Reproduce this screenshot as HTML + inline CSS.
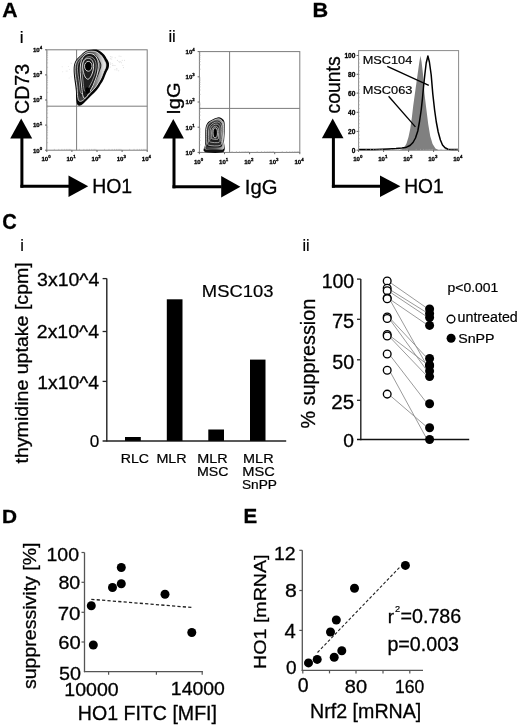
<!DOCTYPE html><html><head><meta charset="utf-8"><style>html,body{margin:0;padding:0;background:#fff;overflow:hidden}svg{display:block;filter:blur(0.35px)}text{font-family:"Liberation Sans",sans-serif;fill:#000;stroke:#000;stroke-width:0.3px}</style></head><body>
<svg width="520" height="728" viewBox="0 0 520 728">
<text id="t_A" x="2.17" y="16.90" font-size="20.95" font-weight="bold" textLength="15.31" lengthAdjust="spacingAndGlyphs">A</text>
<text id="t_B" x="312.53" y="17.25" font-size="20.58" font-weight="bold" textLength="15.69" lengthAdjust="spacingAndGlyphs">B</text>
<text id="t_C" x="2.30" y="228.53" font-size="22.12" font-weight="bold" textLength="14.50" lengthAdjust="spacingAndGlyphs">C</text>
<text id="t_D" x="2.09" y="522.50" font-size="19.05" font-weight="bold" textLength="15.03" lengthAdjust="spacingAndGlyphs">D</text>
<text id="t_E" x="243.61" y="522.50" font-size="20.36" font-weight="bold" textLength="13.70" lengthAdjust="spacingAndGlyphs">E</text>
<text id="t_iA" x="19.84" y="42.50" font-size="17.24" style="stroke-width:0.2px">i</text>
<text id="t_iiA" x="168.38" y="42.00" font-size="16.55" style="stroke-width:0.2px">ii</text>
<text id="t_iC" x="20.15" y="250.60" font-size="16.34" style="stroke-width:0.2px">i</text>
<text id="t_iiC" x="302.42" y="250.60" font-size="16.00" style="stroke-width:0.2px">ii</text>
<rect x="46.8" y="49.8" width="100.39999999999999" height="100.39999999999999" fill="none" stroke="#7c7c7c" stroke-width="1"/>
<line x1="54.36" y1="150.20" x2="54.36" y2="148.90" stroke="#aaa" stroke-width="0.6"/>
<line x1="46.80" y1="142.64" x2="48.10" y2="142.64" stroke="#aaa" stroke-width="0.6"/>
<line x1="58.78" y1="150.20" x2="58.78" y2="148.90" stroke="#aaa" stroke-width="0.6"/>
<line x1="46.80" y1="138.22" x2="48.10" y2="138.22" stroke="#aaa" stroke-width="0.6"/>
<line x1="61.91" y1="150.20" x2="61.91" y2="148.90" stroke="#aaa" stroke-width="0.6"/>
<line x1="46.80" y1="135.09" x2="48.10" y2="135.09" stroke="#aaa" stroke-width="0.6"/>
<line x1="64.34" y1="150.20" x2="64.34" y2="148.90" stroke="#aaa" stroke-width="0.6"/>
<line x1="46.80" y1="132.66" x2="48.10" y2="132.66" stroke="#aaa" stroke-width="0.6"/>
<line x1="66.33" y1="150.20" x2="66.33" y2="148.90" stroke="#aaa" stroke-width="0.6"/>
<line x1="46.80" y1="130.67" x2="48.10" y2="130.67" stroke="#aaa" stroke-width="0.6"/>
<line x1="68.01" y1="150.20" x2="68.01" y2="148.90" stroke="#aaa" stroke-width="0.6"/>
<line x1="46.80" y1="128.99" x2="48.10" y2="128.99" stroke="#aaa" stroke-width="0.6"/>
<line x1="69.47" y1="150.20" x2="69.47" y2="148.90" stroke="#aaa" stroke-width="0.6"/>
<line x1="46.80" y1="127.53" x2="48.10" y2="127.53" stroke="#aaa" stroke-width="0.6"/>
<line x1="70.75" y1="150.20" x2="70.75" y2="148.90" stroke="#aaa" stroke-width="0.6"/>
<line x1="46.80" y1="126.25" x2="48.10" y2="126.25" stroke="#aaa" stroke-width="0.6"/>
<line x1="79.46" y1="150.20" x2="79.46" y2="148.90" stroke="#aaa" stroke-width="0.6"/>
<line x1="46.80" y1="117.54" x2="48.10" y2="117.54" stroke="#aaa" stroke-width="0.6"/>
<line x1="83.88" y1="150.20" x2="83.88" y2="148.90" stroke="#aaa" stroke-width="0.6"/>
<line x1="46.80" y1="113.12" x2="48.10" y2="113.12" stroke="#aaa" stroke-width="0.6"/>
<line x1="87.01" y1="150.20" x2="87.01" y2="148.90" stroke="#aaa" stroke-width="0.6"/>
<line x1="46.80" y1="109.99" x2="48.10" y2="109.99" stroke="#aaa" stroke-width="0.6"/>
<line x1="89.44" y1="150.20" x2="89.44" y2="148.90" stroke="#aaa" stroke-width="0.6"/>
<line x1="46.80" y1="107.56" x2="48.10" y2="107.56" stroke="#aaa" stroke-width="0.6"/>
<line x1="91.43" y1="150.20" x2="91.43" y2="148.90" stroke="#aaa" stroke-width="0.6"/>
<line x1="46.80" y1="105.57" x2="48.10" y2="105.57" stroke="#aaa" stroke-width="0.6"/>
<line x1="93.11" y1="150.20" x2="93.11" y2="148.90" stroke="#aaa" stroke-width="0.6"/>
<line x1="46.80" y1="103.89" x2="48.10" y2="103.89" stroke="#aaa" stroke-width="0.6"/>
<line x1="94.57" y1="150.20" x2="94.57" y2="148.90" stroke="#aaa" stroke-width="0.6"/>
<line x1="46.80" y1="102.43" x2="48.10" y2="102.43" stroke="#aaa" stroke-width="0.6"/>
<line x1="95.85" y1="150.20" x2="95.85" y2="148.90" stroke="#aaa" stroke-width="0.6"/>
<line x1="46.80" y1="101.15" x2="48.10" y2="101.15" stroke="#aaa" stroke-width="0.6"/>
<line x1="104.56" y1="150.20" x2="104.56" y2="148.90" stroke="#aaa" stroke-width="0.6"/>
<line x1="46.80" y1="92.44" x2="48.10" y2="92.44" stroke="#aaa" stroke-width="0.6"/>
<line x1="108.98" y1="150.20" x2="108.98" y2="148.90" stroke="#aaa" stroke-width="0.6"/>
<line x1="46.80" y1="88.02" x2="48.10" y2="88.02" stroke="#aaa" stroke-width="0.6"/>
<line x1="112.11" y1="150.20" x2="112.11" y2="148.90" stroke="#aaa" stroke-width="0.6"/>
<line x1="46.80" y1="84.89" x2="48.10" y2="84.89" stroke="#aaa" stroke-width="0.6"/>
<line x1="114.54" y1="150.20" x2="114.54" y2="148.90" stroke="#aaa" stroke-width="0.6"/>
<line x1="46.80" y1="82.46" x2="48.10" y2="82.46" stroke="#aaa" stroke-width="0.6"/>
<line x1="116.53" y1="150.20" x2="116.53" y2="148.90" stroke="#aaa" stroke-width="0.6"/>
<line x1="46.80" y1="80.47" x2="48.10" y2="80.47" stroke="#aaa" stroke-width="0.6"/>
<line x1="118.21" y1="150.20" x2="118.21" y2="148.90" stroke="#aaa" stroke-width="0.6"/>
<line x1="46.80" y1="78.79" x2="48.10" y2="78.79" stroke="#aaa" stroke-width="0.6"/>
<line x1="119.67" y1="150.20" x2="119.67" y2="148.90" stroke="#aaa" stroke-width="0.6"/>
<line x1="46.80" y1="77.33" x2="48.10" y2="77.33" stroke="#aaa" stroke-width="0.6"/>
<line x1="120.95" y1="150.20" x2="120.95" y2="148.90" stroke="#aaa" stroke-width="0.6"/>
<line x1="46.80" y1="76.05" x2="48.10" y2="76.05" stroke="#aaa" stroke-width="0.6"/>
<line x1="129.66" y1="150.20" x2="129.66" y2="148.90" stroke="#aaa" stroke-width="0.6"/>
<line x1="46.80" y1="67.34" x2="48.10" y2="67.34" stroke="#aaa" stroke-width="0.6"/>
<line x1="134.08" y1="150.20" x2="134.08" y2="148.90" stroke="#aaa" stroke-width="0.6"/>
<line x1="46.80" y1="62.92" x2="48.10" y2="62.92" stroke="#aaa" stroke-width="0.6"/>
<line x1="137.21" y1="150.20" x2="137.21" y2="148.90" stroke="#aaa" stroke-width="0.6"/>
<line x1="46.80" y1="59.79" x2="48.10" y2="59.79" stroke="#aaa" stroke-width="0.6"/>
<line x1="139.64" y1="150.20" x2="139.64" y2="148.90" stroke="#aaa" stroke-width="0.6"/>
<line x1="46.80" y1="57.36" x2="48.10" y2="57.36" stroke="#aaa" stroke-width="0.6"/>
<line x1="141.63" y1="150.20" x2="141.63" y2="148.90" stroke="#aaa" stroke-width="0.6"/>
<line x1="46.80" y1="55.37" x2="48.10" y2="55.37" stroke="#aaa" stroke-width="0.6"/>
<line x1="143.31" y1="150.20" x2="143.31" y2="148.90" stroke="#aaa" stroke-width="0.6"/>
<line x1="46.80" y1="53.69" x2="48.10" y2="53.69" stroke="#aaa" stroke-width="0.6"/>
<line x1="144.77" y1="150.20" x2="144.77" y2="148.90" stroke="#aaa" stroke-width="0.6"/>
<line x1="46.80" y1="52.23" x2="48.10" y2="52.23" stroke="#aaa" stroke-width="0.6"/>
<line x1="146.05" y1="150.20" x2="146.05" y2="148.90" stroke="#aaa" stroke-width="0.6"/>
<line x1="46.80" y1="50.95" x2="48.10" y2="50.95" stroke="#aaa" stroke-width="0.6"/>
<line x1="46.80" y1="152.00" x2="46.80" y2="150.20" stroke="#555" stroke-width="0.9"/>
<line x1="45.00" y1="150.20" x2="46.80" y2="150.20" stroke="#555" stroke-width="0.9"/>
<text x="42.20" y="152.50" font-size="6.1" font-weight="bold" text-anchor="end" style="fill:#000">10<tspan dy="-2.9" font-size="4.4">0</tspan></text>
<text x="46.00" y="161.30" font-size="6.1" font-weight="bold" text-anchor="middle" style="fill:#000">10<tspan dy="-2.9" font-size="4.4">0</tspan></text>
<line x1="71.90" y1="152.00" x2="71.90" y2="150.20" stroke="#555" stroke-width="0.9"/>
<line x1="45.00" y1="125.10" x2="46.80" y2="125.10" stroke="#555" stroke-width="0.9"/>
<text x="42.20" y="127.40" font-size="6.1" font-weight="bold" text-anchor="end" style="fill:#000">10<tspan dy="-2.9" font-size="4.4">1</tspan></text>
<text x="71.10" y="161.30" font-size="6.1" font-weight="bold" text-anchor="middle" style="fill:#000">10<tspan dy="-2.9" font-size="4.4">1</tspan></text>
<line x1="97.00" y1="152.00" x2="97.00" y2="150.20" stroke="#555" stroke-width="0.9"/>
<line x1="45.00" y1="100.00" x2="46.80" y2="100.00" stroke="#555" stroke-width="0.9"/>
<text x="42.20" y="102.30" font-size="6.1" font-weight="bold" text-anchor="end" style="fill:#000">10<tspan dy="-2.9" font-size="4.4">2</tspan></text>
<text x="96.20" y="161.30" font-size="6.1" font-weight="bold" text-anchor="middle" style="fill:#000">10<tspan dy="-2.9" font-size="4.4">2</tspan></text>
<line x1="122.10" y1="152.00" x2="122.10" y2="150.20" stroke="#555" stroke-width="0.9"/>
<line x1="45.00" y1="74.90" x2="46.80" y2="74.90" stroke="#555" stroke-width="0.9"/>
<text x="42.20" y="77.20" font-size="6.1" font-weight="bold" text-anchor="end" style="fill:#000">10<tspan dy="-2.9" font-size="4.4">3</tspan></text>
<text x="121.30" y="161.30" font-size="6.1" font-weight="bold" text-anchor="middle" style="fill:#000">10<tspan dy="-2.9" font-size="4.4">3</tspan></text>
<line x1="147.20" y1="152.00" x2="147.20" y2="150.20" stroke="#555" stroke-width="0.9"/>
<line x1="45.00" y1="49.80" x2="46.80" y2="49.80" stroke="#555" stroke-width="0.9"/>
<text x="42.20" y="52.10" font-size="6.1" font-weight="bold" text-anchor="end" style="fill:#000">10<tspan dy="-2.9" font-size="4.4">4</tspan></text>
<text x="146.40" y="161.30" font-size="6.1" font-weight="bold" text-anchor="middle" style="fill:#000">10<tspan dy="-2.9" font-size="4.4">4</tspan></text>
<line x1="76.60" y1="49.80" x2="76.60" y2="150.20" stroke="#7c7c7c" stroke-width="1"/>
<line x1="46.80" y1="106.20" x2="147.20" y2="106.20" stroke="#7c7c7c" stroke-width="1"/>
<rect x="199.4" y="51.6" width="100.4" height="100.80000000000001" fill="none" stroke="#7c7c7c" stroke-width="1"/>
<line x1="206.96" y1="152.40" x2="206.96" y2="151.10" stroke="#aaa" stroke-width="0.6"/>
<line x1="199.40" y1="144.81" x2="200.70" y2="144.81" stroke="#aaa" stroke-width="0.6"/>
<line x1="211.38" y1="152.40" x2="211.38" y2="151.10" stroke="#aaa" stroke-width="0.6"/>
<line x1="199.40" y1="140.38" x2="200.70" y2="140.38" stroke="#aaa" stroke-width="0.6"/>
<line x1="214.51" y1="152.40" x2="214.51" y2="151.10" stroke="#aaa" stroke-width="0.6"/>
<line x1="199.40" y1="137.23" x2="200.70" y2="137.23" stroke="#aaa" stroke-width="0.6"/>
<line x1="216.94" y1="152.40" x2="216.94" y2="151.10" stroke="#aaa" stroke-width="0.6"/>
<line x1="199.40" y1="134.79" x2="200.70" y2="134.79" stroke="#aaa" stroke-width="0.6"/>
<line x1="218.93" y1="152.40" x2="218.93" y2="151.10" stroke="#aaa" stroke-width="0.6"/>
<line x1="199.40" y1="132.79" x2="200.70" y2="132.79" stroke="#aaa" stroke-width="0.6"/>
<line x1="220.61" y1="152.40" x2="220.61" y2="151.10" stroke="#aaa" stroke-width="0.6"/>
<line x1="199.40" y1="131.10" x2="200.70" y2="131.10" stroke="#aaa" stroke-width="0.6"/>
<line x1="222.07" y1="152.40" x2="222.07" y2="151.10" stroke="#aaa" stroke-width="0.6"/>
<line x1="199.40" y1="129.64" x2="200.70" y2="129.64" stroke="#aaa" stroke-width="0.6"/>
<line x1="223.35" y1="152.40" x2="223.35" y2="151.10" stroke="#aaa" stroke-width="0.6"/>
<line x1="199.40" y1="128.35" x2="200.70" y2="128.35" stroke="#aaa" stroke-width="0.6"/>
<line x1="232.06" y1="152.40" x2="232.06" y2="151.10" stroke="#aaa" stroke-width="0.6"/>
<line x1="199.40" y1="119.61" x2="200.70" y2="119.61" stroke="#aaa" stroke-width="0.6"/>
<line x1="236.48" y1="152.40" x2="236.48" y2="151.10" stroke="#aaa" stroke-width="0.6"/>
<line x1="199.40" y1="115.18" x2="200.70" y2="115.18" stroke="#aaa" stroke-width="0.6"/>
<line x1="239.61" y1="152.40" x2="239.61" y2="151.10" stroke="#aaa" stroke-width="0.6"/>
<line x1="199.40" y1="112.03" x2="200.70" y2="112.03" stroke="#aaa" stroke-width="0.6"/>
<line x1="242.04" y1="152.40" x2="242.04" y2="151.10" stroke="#aaa" stroke-width="0.6"/>
<line x1="199.40" y1="109.59" x2="200.70" y2="109.59" stroke="#aaa" stroke-width="0.6"/>
<line x1="244.03" y1="152.40" x2="244.03" y2="151.10" stroke="#aaa" stroke-width="0.6"/>
<line x1="199.40" y1="107.59" x2="200.70" y2="107.59" stroke="#aaa" stroke-width="0.6"/>
<line x1="245.71" y1="152.40" x2="245.71" y2="151.10" stroke="#aaa" stroke-width="0.6"/>
<line x1="199.40" y1="105.90" x2="200.70" y2="105.90" stroke="#aaa" stroke-width="0.6"/>
<line x1="247.17" y1="152.40" x2="247.17" y2="151.10" stroke="#aaa" stroke-width="0.6"/>
<line x1="199.40" y1="104.44" x2="200.70" y2="104.44" stroke="#aaa" stroke-width="0.6"/>
<line x1="248.45" y1="152.40" x2="248.45" y2="151.10" stroke="#aaa" stroke-width="0.6"/>
<line x1="199.40" y1="103.15" x2="200.70" y2="103.15" stroke="#aaa" stroke-width="0.6"/>
<line x1="257.16" y1="152.40" x2="257.16" y2="151.10" stroke="#aaa" stroke-width="0.6"/>
<line x1="199.40" y1="94.41" x2="200.70" y2="94.41" stroke="#aaa" stroke-width="0.6"/>
<line x1="261.58" y1="152.40" x2="261.58" y2="151.10" stroke="#aaa" stroke-width="0.6"/>
<line x1="199.40" y1="89.98" x2="200.70" y2="89.98" stroke="#aaa" stroke-width="0.6"/>
<line x1="264.71" y1="152.40" x2="264.71" y2="151.10" stroke="#aaa" stroke-width="0.6"/>
<line x1="199.40" y1="86.83" x2="200.70" y2="86.83" stroke="#aaa" stroke-width="0.6"/>
<line x1="267.14" y1="152.40" x2="267.14" y2="151.10" stroke="#aaa" stroke-width="0.6"/>
<line x1="199.40" y1="84.39" x2="200.70" y2="84.39" stroke="#aaa" stroke-width="0.6"/>
<line x1="269.13" y1="152.40" x2="269.13" y2="151.10" stroke="#aaa" stroke-width="0.6"/>
<line x1="199.40" y1="82.39" x2="200.70" y2="82.39" stroke="#aaa" stroke-width="0.6"/>
<line x1="270.81" y1="152.40" x2="270.81" y2="151.10" stroke="#aaa" stroke-width="0.6"/>
<line x1="199.40" y1="80.70" x2="200.70" y2="80.70" stroke="#aaa" stroke-width="0.6"/>
<line x1="272.27" y1="152.40" x2="272.27" y2="151.10" stroke="#aaa" stroke-width="0.6"/>
<line x1="199.40" y1="79.24" x2="200.70" y2="79.24" stroke="#aaa" stroke-width="0.6"/>
<line x1="273.55" y1="152.40" x2="273.55" y2="151.10" stroke="#aaa" stroke-width="0.6"/>
<line x1="199.40" y1="77.95" x2="200.70" y2="77.95" stroke="#aaa" stroke-width="0.6"/>
<line x1="282.26" y1="152.40" x2="282.26" y2="151.10" stroke="#aaa" stroke-width="0.6"/>
<line x1="199.40" y1="69.21" x2="200.70" y2="69.21" stroke="#aaa" stroke-width="0.6"/>
<line x1="286.68" y1="152.40" x2="286.68" y2="151.10" stroke="#aaa" stroke-width="0.6"/>
<line x1="199.40" y1="64.78" x2="200.70" y2="64.78" stroke="#aaa" stroke-width="0.6"/>
<line x1="289.81" y1="152.40" x2="289.81" y2="151.10" stroke="#aaa" stroke-width="0.6"/>
<line x1="199.40" y1="61.63" x2="200.70" y2="61.63" stroke="#aaa" stroke-width="0.6"/>
<line x1="292.24" y1="152.40" x2="292.24" y2="151.10" stroke="#aaa" stroke-width="0.6"/>
<line x1="199.40" y1="59.19" x2="200.70" y2="59.19" stroke="#aaa" stroke-width="0.6"/>
<line x1="294.23" y1="152.40" x2="294.23" y2="151.10" stroke="#aaa" stroke-width="0.6"/>
<line x1="199.40" y1="57.19" x2="200.70" y2="57.19" stroke="#aaa" stroke-width="0.6"/>
<line x1="295.91" y1="152.40" x2="295.91" y2="151.10" stroke="#aaa" stroke-width="0.6"/>
<line x1="199.40" y1="55.50" x2="200.70" y2="55.50" stroke="#aaa" stroke-width="0.6"/>
<line x1="297.37" y1="152.40" x2="297.37" y2="151.10" stroke="#aaa" stroke-width="0.6"/>
<line x1="199.40" y1="54.04" x2="200.70" y2="54.04" stroke="#aaa" stroke-width="0.6"/>
<line x1="298.65" y1="152.40" x2="298.65" y2="151.10" stroke="#aaa" stroke-width="0.6"/>
<line x1="199.40" y1="52.75" x2="200.70" y2="52.75" stroke="#aaa" stroke-width="0.6"/>
<line x1="199.40" y1="154.20" x2="199.40" y2="152.40" stroke="#555" stroke-width="0.9"/>
<line x1="197.60" y1="152.40" x2="199.40" y2="152.40" stroke="#555" stroke-width="0.9"/>
<text x="194.80" y="154.70" font-size="6.1" font-weight="bold" text-anchor="end" style="fill:#000">10<tspan dy="-2.9" font-size="4.4">0</tspan></text>
<text x="198.60" y="163.60" font-size="6.1" font-weight="bold" text-anchor="middle" style="fill:#000">10<tspan dy="-2.9" font-size="4.4">0</tspan></text>
<line x1="224.50" y1="154.20" x2="224.50" y2="152.40" stroke="#555" stroke-width="0.9"/>
<line x1="197.60" y1="127.20" x2="199.40" y2="127.20" stroke="#555" stroke-width="0.9"/>
<text x="194.80" y="129.50" font-size="6.1" font-weight="bold" text-anchor="end" style="fill:#000">10<tspan dy="-2.9" font-size="4.4">1</tspan></text>
<text x="223.70" y="163.60" font-size="6.1" font-weight="bold" text-anchor="middle" style="fill:#000">10<tspan dy="-2.9" font-size="4.4">1</tspan></text>
<line x1="249.60" y1="154.20" x2="249.60" y2="152.40" stroke="#555" stroke-width="0.9"/>
<line x1="197.60" y1="102.00" x2="199.40" y2="102.00" stroke="#555" stroke-width="0.9"/>
<text x="194.80" y="104.30" font-size="6.1" font-weight="bold" text-anchor="end" style="fill:#000">10<tspan dy="-2.9" font-size="4.4">2</tspan></text>
<text x="248.80" y="163.60" font-size="6.1" font-weight="bold" text-anchor="middle" style="fill:#000">10<tspan dy="-2.9" font-size="4.4">2</tspan></text>
<line x1="274.70" y1="154.20" x2="274.70" y2="152.40" stroke="#555" stroke-width="0.9"/>
<line x1="197.60" y1="76.80" x2="199.40" y2="76.80" stroke="#555" stroke-width="0.9"/>
<text x="194.80" y="79.10" font-size="6.1" font-weight="bold" text-anchor="end" style="fill:#000">10<tspan dy="-2.9" font-size="4.4">3</tspan></text>
<text x="273.90" y="163.60" font-size="6.1" font-weight="bold" text-anchor="middle" style="fill:#000">10<tspan dy="-2.9" font-size="4.4">3</tspan></text>
<line x1="299.80" y1="154.20" x2="299.80" y2="152.40" stroke="#555" stroke-width="0.9"/>
<line x1="197.60" y1="51.60" x2="199.40" y2="51.60" stroke="#555" stroke-width="0.9"/>
<text x="194.80" y="53.90" font-size="6.1" font-weight="bold" text-anchor="end" style="fill:#000">10<tspan dy="-2.9" font-size="4.4">4</tspan></text>
<text x="299.00" y="163.60" font-size="6.1" font-weight="bold" text-anchor="middle" style="fill:#000">10<tspan dy="-2.9" font-size="4.4">4</tspan></text>
<line x1="229.60" y1="51.60" x2="229.60" y2="152.40" stroke="#7c7c7c" stroke-width="1"/>
<line x1="199.40" y1="108.40" x2="299.80" y2="108.40" stroke="#7c7c7c" stroke-width="1"/>
<line x1="21.90" y1="138.00" x2="21.90" y2="187.70" stroke="#000" stroke-width="3"/>
<line x1="20.40" y1="186.20" x2="69.00" y2="186.20" stroke="#000" stroke-width="3"/>
<path d="M21.20,118.40 L10.20,138.50 L32.20,138.50 Z" fill="#000" stroke="none" stroke-width="1"/>
<path d="M88.20,186.20 L68.50,175.50 L68.50,196.90 Z" fill="#000" stroke="none" stroke-width="1"/>
<line x1="174.00" y1="138.00" x2="174.00" y2="188.30" stroke="#000" stroke-width="3"/>
<line x1="172.50" y1="186.80" x2="221.70" y2="186.80" stroke="#000" stroke-width="3"/>
<path d="M173.30,119.00 L162.70,138.50 L183.90,138.50 Z" fill="#000" stroke="none" stroke-width="1"/>
<path d="M240.40,186.80 L221.20,176.10 L221.20,197.50 Z" fill="#000" stroke="none" stroke-width="1"/>
<line x1="333.40" y1="137.70" x2="333.40" y2="187.70" stroke="#000" stroke-width="3"/>
<line x1="331.90" y1="186.20" x2="380.50" y2="186.20" stroke="#000" stroke-width="3"/>
<path d="M332.70,118.50 L321.90,138.20 L343.50,138.20 Z" fill="#000" stroke="none" stroke-width="1"/>
<path d="M400.40,186.20 L380.00,175.50 L380.00,196.90 Z" fill="#000" stroke="none" stroke-width="1"/>
<text id="t_HO1a" x="92.20" y="192.90" font-size="19.65" textLength="39.95" lengthAdjust="spacingAndGlyphs">HO1</text>
<text id="t_IgG" x="244.82" y="193.80" font-size="19.78" textLength="32.68" lengthAdjust="spacingAndGlyphs">IgG</text>
<text id="t_HO1b" x="404.21" y="192.90" font-size="19.65" textLength="39.52" lengthAdjust="spacingAndGlyphs">HO1</text>
<text id="t_CD73" transform="translate(28.90,113.88) rotate(-90)" font-size="20.21" textLength="49.94" lengthAdjust="spacingAndGlyphs">CD73</text>
<text id="t_IgGr" transform="translate(180.33,114.75) rotate(-90)" font-size="19.12" textLength="32.24" lengthAdjust="spacingAndGlyphs">IgG</text>
<text id="t_counts" transform="translate(340.39,113.58) rotate(-90)" font-size="20.92" textLength="57.34" lengthAdjust="spacingAndGlyphs">counts</text>
<defs><linearGradient id="g1" x1="0" y1="0" x2="1" y2="0"><stop offset="0" stop-color="#333"/><stop offset="0.55" stop-color="#555"/><stop offset="0.78" stop-color="#aaa"/><stop offset="0.92" stop-color="#ddd"/><stop offset="1" stop-color="#eee"/></linearGradient><linearGradient id="g2" x1="0" y1="0" x2="1" y2="0"><stop offset="0" stop-color="#333"/><stop offset="0.6" stop-color="#666"/><stop offset="1" stop-color="#bbb"/></linearGradient></defs>
<path d="M88.80,50.00 C90.22,49.63 91.97,49.40 93.50,49.40 C95.03,49.40 96.28,49.20 98.00,50.00 C99.72,50.80 102.25,52.60 103.80,54.20 C105.35,55.80 106.43,58.05 107.30,59.60 C108.17,61.15 108.78,62.10 109.00,63.50 C109.22,64.90 109.05,66.47 108.60,68.00 C108.15,69.53 107.07,70.97 106.30,72.70 C105.53,74.43 104.80,76.67 104.00,78.40 C103.20,80.13 102.68,81.17 101.50,83.10 C100.32,85.03 98.63,87.90 96.90,90.00 C95.17,92.10 93.02,93.78 91.10,95.70 C89.18,97.62 87.05,99.92 85.40,101.50 C83.75,103.08 82.50,104.62 81.20,105.20 C79.90,105.78 78.43,106.00 77.60,105.00 C76.77,104.00 76.48,101.52 76.20,99.20 C75.92,96.88 76.12,93.78 75.90,91.10 C75.68,88.42 75.25,85.98 74.90,83.10 C74.55,80.22 73.97,76.68 73.80,73.80 C73.63,70.92 73.52,68.10 73.90,65.80 C74.28,63.50 74.95,61.77 76.10,60.00 C77.25,58.23 79.32,56.60 80.80,55.20 C82.28,53.80 83.67,52.47 85.00,51.60 C86.33,50.73 87.38,50.37 88.80,50.00 Z" fill="#050505"/>
<path d="M88.78,51.37 C90.06,51.12 91.63,51.14 92.96,51.26 C94.30,51.38 95.36,51.31 96.80,52.09 C98.24,52.87 100.33,54.54 101.60,55.97 C102.87,57.39 103.73,59.31 104.43,60.64 C105.13,61.97 105.63,62.77 105.80,63.95 C105.97,65.14 105.84,66.45 105.48,67.75 C105.12,69.05 104.25,70.27 103.63,71.75 C103.01,73.24 102.42,75.15 101.76,76.66 C101.11,78.16 100.69,79.05 99.70,80.77 C98.71,82.48 97.30,85.01 95.82,86.94 C94.34,88.86 92.49,90.53 90.81,92.33 C89.13,94.12 87.21,96.30 85.74,97.74 C84.28,99.17 83.17,100.44 82.01,100.93 C80.86,101.43 79.56,101.61 78.82,100.73 C78.07,99.85 77.81,97.68 77.54,95.65 C77.28,93.62 77.43,90.91 77.22,88.54 C77.00,86.18 76.59,84.03 76.25,81.46 C75.91,78.88 75.35,75.71 75.18,73.11 C75.02,70.51 74.91,67.95 75.24,65.85 C75.57,63.76 76.16,62.19 77.19,60.56 C78.22,58.93 80.06,57.38 81.41,56.08 C82.76,54.78 84.05,53.55 85.28,52.76 C86.51,51.98 87.50,51.62 88.78,51.37 Z" fill="url(#g1)" stroke="#f4f4f4" stroke-width="0.8"/>
<path d="M88.76,52.88 C89.88,52.82 91.21,53.30 92.28,53.63 C93.35,53.97 94.15,54.09 95.20,54.88 C96.25,55.68 97.69,57.20 98.56,58.40 C99.44,59.61 99.98,61.06 100.44,62.10 C100.90,63.13 101.21,63.71 101.32,64.59 C101.43,65.48 101.35,66.43 101.11,67.40 C100.88,68.37 100.32,69.29 99.91,70.43 C99.51,71.57 99.12,73.05 98.67,74.25 C98.23,75.44 97.96,76.15 97.25,77.60 C96.55,79.06 95.56,81.19 94.43,82.98 C93.30,84.77 91.86,86.57 90.47,88.35 C89.09,90.14 87.38,92.35 86.11,93.68 C84.85,95.01 83.89,95.93 82.89,96.34 C81.89,96.75 80.78,96.88 80.13,96.13 C79.48,95.38 79.24,93.55 78.99,91.82 C78.74,90.10 78.85,87.81 78.63,85.79 C78.42,83.76 78.03,81.92 77.70,79.69 C77.37,77.45 76.85,74.66 76.68,72.36 C76.51,70.07 76.40,67.78 76.68,65.91 C76.96,64.05 77.46,62.64 78.36,61.16 C79.26,59.68 80.87,58.22 82.07,57.03 C83.28,55.84 84.47,54.70 85.59,54.01 C86.70,53.32 87.65,52.94 88.76,52.88 Z" fill="#262626" stroke="none"/>
<path d="M88.75,53.80 C89.79,53.78 91.00,54.33 91.97,54.70 C92.94,55.07 93.65,55.24 94.56,56.01 C95.47,56.78 96.70,58.21 97.44,59.31 C98.18,60.41 98.62,61.70 99.00,62.62 C99.38,63.54 99.63,64.04 99.72,64.82 C99.81,65.60 99.74,66.42 99.55,67.28 C99.36,68.13 98.91,68.94 98.57,69.95 C98.23,70.96 97.91,72.29 97.53,73.36 C97.15,74.43 96.92,75.06 96.31,76.38 C95.69,77.69 94.83,79.61 93.82,81.26 C92.82,82.90 91.54,84.58 90.29,86.22 C89.05,87.86 87.49,89.88 86.35,91.08 C85.21,92.27 84.35,93.04 83.45,93.39 C82.56,93.74 81.56,93.85 80.97,93.18 C80.38,92.50 80.16,90.89 79.92,89.36 C79.68,87.84 79.76,85.82 79.54,84.02 C79.33,82.21 78.95,80.57 78.63,78.55 C78.32,76.53 77.81,73.98 77.64,71.88 C77.46,69.78 77.36,67.67 77.61,65.95 C77.85,64.23 78.30,62.93 79.11,61.54 C79.93,60.16 81.39,58.76 82.50,57.64 C83.61,56.52 84.74,55.46 85.78,54.82 C86.82,54.18 87.72,53.82 88.75,53.80 Z" fill="#151515" stroke="#c8c8c8" stroke-width="0.7"/>
<path d="M88.00,53.60 C89.43,53.37 91.53,53.47 93.00,54.20 C94.47,54.93 95.90,56.37 96.80,58.00 C97.70,59.63 98.27,61.67 98.40,64.00 C98.53,66.33 98.07,69.50 97.60,72.00 C97.13,74.50 96.37,76.75 95.60,79.00 C94.83,81.25 93.97,83.42 93.00,85.50 C92.03,87.58 90.83,89.67 89.80,91.50 C88.77,93.33 87.73,95.38 86.80,96.50 C85.87,97.62 84.90,98.53 84.20,98.20 C83.50,97.87 83.03,96.53 82.60,94.50 C82.17,92.47 81.93,88.92 81.60,86.00 C81.27,83.08 80.83,80.00 80.60,77.00 C80.37,74.00 80.07,70.75 80.20,68.00 C80.33,65.25 80.70,62.57 81.40,60.50 C82.10,58.43 83.30,56.75 84.40,55.60 C85.50,54.45 86.57,53.83 88.00,53.60 Z" fill="#161616" stroke="#ececec" stroke-width="0.9"/>
<path d="M88.07,56.77 C89.18,56.59 90.82,56.66 91.97,57.24 C93.11,57.81 94.23,58.93 94.93,60.20 C95.63,61.47 96.07,63.06 96.18,64.88 C96.28,66.70 95.92,69.17 95.55,71.12 C95.19,73.07 94.59,74.83 93.99,76.58 C93.40,78.33 92.72,80.03 91.97,81.65 C91.21,83.28 90.28,84.90 89.47,86.33 C88.66,87.76 87.86,89.36 87.13,90.23 C86.40,91.10 85.65,91.82 85.10,91.56 C84.56,91.30 84.19,90.26 83.85,88.67 C83.52,87.08 83.33,84.32 83.07,82.04 C82.81,79.77 82.48,77.36 82.29,75.02 C82.11,72.68 81.88,70.14 81.98,68.00 C82.09,65.86 82.37,63.76 82.92,62.15 C83.46,60.54 84.40,59.23 85.26,58.33 C86.12,57.43 86.95,56.95 88.07,56.77 Z" fill="#202020" stroke="#bdbdbd" stroke-width="0.7"/>
<path d="M87.60,58.40 C88.73,58.27 90.22,58.50 91.20,59.40 C92.18,60.30 93.17,62.03 93.50,63.80 C93.83,65.57 93.58,68.00 93.20,70.00 C92.82,72.00 92.03,74.27 91.20,75.80 C90.37,77.33 89.20,79.00 88.20,79.20 C87.20,79.40 86.03,78.37 85.20,77.00 C84.37,75.63 83.62,73.00 83.20,71.00 C82.78,69.00 82.50,66.80 82.70,65.00 C82.90,63.20 83.58,61.30 84.40,60.20 C85.22,59.10 86.47,58.53 87.60,58.40 Z" fill="#1e1e1e" stroke="#ececec" stroke-width="0.9"/>
<ellipse cx="87.6" cy="90.5" rx="2.4" ry="3.2" fill="#000"/>
<ellipse cx="88.3" cy="66.3" rx="3.7" ry="4.9" fill="#0a0a0a" stroke="#f0f0f0" stroke-width="0.9"/>
<ellipse cx="88.3" cy="66.3" rx="2.9" ry="4.0" fill="#000"/>
<circle cx="115.2" cy="57.7" r="0.55" fill="#dcdcdc"/>
<circle cx="120.9" cy="56.3" r="0.55" fill="#dcdcdc"/>
<circle cx="118.9" cy="61.6" r="0.55" fill="#dcdcdc"/>
<circle cx="110.5" cy="64.1" r="0.55" fill="#dcdcdc"/>
<circle cx="110.2" cy="62.8" r="0.55" fill="#dcdcdc"/>
<circle cx="110.7" cy="56.6" r="0.55" fill="#dcdcdc"/>
<circle cx="116.9" cy="69.9" r="0.55" fill="#dcdcdc"/>
<circle cx="111.7" cy="59.0" r="0.55" fill="#dcdcdc"/>
<circle cx="119.6" cy="62.1" r="0.55" fill="#dcdcdc"/>
<circle cx="124.5" cy="60.2" r="0.55" fill="#dcdcdc"/>
<circle cx="112.0" cy="57.1" r="0.55" fill="#dcdcdc"/>
<circle cx="114.9" cy="69.7" r="0.55" fill="#dcdcdc"/>
<circle cx="112.7" cy="65.5" r="0.55" fill="#dcdcdc"/>
<circle cx="120.7" cy="61.7" r="0.55" fill="#dcdcdc"/>
<circle cx="119.1" cy="56.1" r="0.55" fill="#dcdcdc"/>
<circle cx="110.5" cy="58.7" r="0.55" fill="#dcdcdc"/>
<circle cx="121.4" cy="62.7" r="0.55" fill="#dcdcdc"/>
<circle cx="115.0" cy="65.5" r="0.55" fill="#dcdcdc"/>
<circle cx="117.4" cy="60.4" r="0.55" fill="#dcdcdc"/>
<circle cx="123.4" cy="67.6" r="0.55" fill="#dcdcdc"/>
<circle cx="113.8" cy="65.3" r="0.55" fill="#dcdcdc"/>
<circle cx="118.7" cy="70.8" r="0.55" fill="#dcdcdc"/>
<circle cx="122.3" cy="60.2" r="0.55" fill="#dcdcdc"/>
<circle cx="116.8" cy="68.6" r="0.55" fill="#dcdcdc"/>
<circle cx="112.2" cy="63.8" r="0.55" fill="#dcdcdc"/>
<circle cx="110.2" cy="67.0" r="0.55" fill="#dcdcdc"/>
<circle cx="122.9" cy="65.3" r="0.55" fill="#dcdcdc"/>
<circle cx="71.6" cy="63.6" r="0.5" fill="#e4e4e4"/>
<circle cx="69.6" cy="69.5" r="0.5" fill="#e4e4e4"/>
<circle cx="68.4" cy="66.6" r="0.5" fill="#e4e4e4"/>
<circle cx="71.2" cy="76.8" r="0.5" fill="#e4e4e4"/>
<circle cx="67.2" cy="70.9" r="0.5" fill="#e4e4e4"/>
<circle cx="62.7" cy="71.7" r="0.5" fill="#e4e4e4"/>
<circle cx="69.1" cy="77.9" r="0.5" fill="#e4e4e4"/>
<circle cx="71.0" cy="63.0" r="0.5" fill="#e4e4e4"/>
<circle cx="66.2" cy="71.0" r="0.5" fill="#e4e4e4"/>
<circle cx="62.2" cy="66.7" r="0.5" fill="#e4e4e4"/>
<path d="M204.90,151.80 C201.87,150.67 204.95,147.28 205.00,145.00 C205.05,142.72 205.12,140.88 205.20,138.10 C205.28,135.32 205.07,130.90 205.50,128.30 C205.93,125.70 206.55,124.02 207.80,122.50 C209.05,120.98 211.15,120.08 213.00,119.20 C214.85,118.32 217.27,117.20 218.90,117.20 C220.53,117.20 221.87,118.32 222.80,119.20 C223.73,120.08 224.18,120.43 224.50,122.50 C224.82,124.57 224.78,128.45 224.70,131.60 C224.62,134.75 224.25,138.03 224.00,141.40 C223.75,144.77 226.38,150.07 223.20,151.80 C220.02,153.53 207.93,152.93 204.90,151.80 Z" fill="#050505"/>
<path d="M206.10,149.58 C203.41,148.58 206.12,145.63 206.16,143.62 C206.19,141.61 206.23,139.99 206.30,137.52 C206.37,135.05 206.18,131.11 206.56,128.79 C206.94,126.47 207.47,124.97 208.57,123.58 C209.68,122.19 211.54,121.25 213.20,120.45 C214.86,119.65 217.07,118.73 218.53,118.77 C219.99,118.81 221.15,119.86 221.98,120.67 C222.80,121.48 223.19,121.79 223.47,123.64 C223.76,125.48 223.75,128.92 223.68,131.73 C223.61,134.54 223.28,137.49 223.05,140.47 C222.82,143.46 225.12,148.13 222.29,149.65 C219.47,151.16 208.79,150.59 206.10,149.58 Z" fill="url(#g2)" stroke="#e8e8e8" stroke-width="0.8"/>
<path d="M207.65,146.73 C205.40,145.89 207.63,143.50 207.64,141.84 C207.65,140.18 207.67,138.84 207.71,136.77 C207.76,134.70 207.61,131.39 207.91,129.42 C208.22,127.45 208.64,126.19 209.57,124.96 C210.49,123.73 212.05,122.75 213.46,122.05 C214.87,121.35 216.81,120.70 218.05,120.78 C219.29,120.87 220.24,121.84 220.92,122.56 C221.61,123.28 221.92,123.54 222.16,125.10 C222.40,126.65 222.42,129.53 222.36,131.90 C222.31,134.26 222.04,136.78 221.83,139.28 C221.62,141.78 223.49,145.63 221.13,146.88 C218.76,148.12 209.90,147.57 207.65,146.73 Z" fill="#1a1a1a" stroke="none"/>
<path d="M208.51,145.14 C206.51,144.40 208.47,142.32 208.47,140.85 C208.46,139.39 208.47,138.20 208.50,136.35 C208.53,134.50 208.40,131.54 208.67,129.77 C208.94,128.00 209.30,126.87 210.12,125.73 C210.94,124.59 212.33,123.58 213.61,122.94 C214.88,122.30 216.66,121.79 217.78,121.90 C218.91,122.02 219.73,122.95 220.33,123.61 C220.94,124.28 221.21,124.51 221.42,125.91 C221.64,127.30 221.68,129.87 221.63,131.99 C221.59,134.11 221.35,136.39 221.15,138.62 C220.96,140.84 222.59,144.25 220.48,145.34 C218.37,146.42 210.51,145.89 208.51,145.14 Z" fill="#2a2a2a" stroke="#d8d8d8" stroke-width="0.7"/>
<path d="M210.23,141.97 C208.72,141.41 210.14,139.96 210.12,138.88 C210.09,137.80 210.06,136.92 210.07,135.52 C210.08,134.12 209.99,131.85 210.18,130.47 C210.37,129.09 210.61,128.22 211.22,127.27 C211.84,126.31 212.89,125.24 213.89,124.72 C214.90,124.20 216.38,123.98 217.25,124.14 C218.13,124.31 218.71,125.15 219.16,125.71 C219.61,126.28 219.79,126.45 219.96,127.53 C220.13,128.60 220.20,130.54 220.17,132.17 C220.14,133.80 219.96,135.61 219.80,137.29 C219.63,138.97 220.78,141.48 219.18,142.26 C217.59,143.04 211.74,142.54 210.23,141.97 Z" fill="#1e1e1e" stroke="#d0d0d0" stroke-width="0.7"/>
<path d="M211.95,138.80 C210.93,138.42 211.82,137.59 211.77,136.91 C211.72,136.22 211.66,135.64 211.64,134.69 C211.63,133.73 211.57,132.15 211.69,131.17 C211.80,130.19 211.91,129.58 212.33,128.80 C212.75,128.03 213.45,126.91 214.18,126.50 C214.91,126.10 216.09,126.16 216.72,126.38 C217.36,126.60 217.69,127.35 217.99,127.82 C218.28,128.28 218.37,128.39 218.50,129.15 C218.62,129.91 218.72,131.22 218.71,132.36 C218.70,133.49 218.58,134.83 218.44,135.97 C218.30,137.11 218.97,138.71 217.89,139.18 C216.80,139.65 212.97,139.18 211.95,138.80 Z" fill="#2a2a2a" stroke="#d8d8d8" stroke-width="0.7"/>
<ellipse cx="215.2" cy="132.8" rx="2.2" ry="5.0" fill="#111" stroke="#e6e6e6" stroke-width="0.8"/>
<ellipse cx="215.2" cy="132.8" rx="1.3" ry="3.6" fill="#000"/>
<rect x="205" y="149.6" width="18.5" height="2.6" fill="#111"/>
<rect x="358.6" y="50.6" width="100.0" height="99.6" fill="none" stroke="#8a8a8a" stroke-width="1"/>
<path d="M399.00,150.20 L402.00,149.30 L404.50,147.00 L406.50,143.50 L408.50,137.00 L410.20,129.00 L411.80,118.00 L413.20,106.00 L415.00,93.00 L417.50,75.00 L419.20,63.00 L420.40,55.80 L421.60,62.00 L423.10,75.00 L424.40,93.00 L426.20,108.00 L428.20,124.00 L430.20,136.00 L432.60,144.00 L435.50,148.50 L438.80,150.20 Z" fill="#808080" stroke="none" stroke-width="1"/>
<path d="M359.00,149.60 L375.00,149.40 L388.00,149.00 L396.00,148.60 L402.00,148.10 L406.50,147.20 L410.00,145.50 L413.00,142.50 L415.50,138.00 L417.80,131.00 L419.60,121.00 L421.20,110.00 L422.40,99.00 L423.60,86.00 L424.90,74.00 L426.20,63.00 L427.90,56.00 L429.40,62.00 L431.20,75.00 L432.80,94.00 L434.60,110.00 L436.30,122.00 L438.20,132.00 L440.40,140.00 L442.50,145.00 L445.00,147.80 L448.00,149.20 L452.00,149.60 L458.00,149.60" fill="none" stroke="#000" stroke-width="1.5" stroke-linejoin="round"/>
<line x1="356.60" y1="55.50" x2="358.60" y2="55.50" stroke="#555" stroke-width="0.9"/>
<text x="355.4" y="57.90" font-size="6.6" font-weight="bold" text-anchor="end" style="fill:#000">100</text>
<line x1="356.60" y1="74.30" x2="358.60" y2="74.30" stroke="#555" stroke-width="0.9"/>
<text x="355.4" y="76.70" font-size="6.6" font-weight="bold" text-anchor="end" style="fill:#000">80</text>
<line x1="356.60" y1="93.10" x2="358.60" y2="93.10" stroke="#555" stroke-width="0.9"/>
<text x="355.4" y="95.50" font-size="6.6" font-weight="bold" text-anchor="end" style="fill:#000">60</text>
<line x1="356.60" y1="112.30" x2="358.60" y2="112.30" stroke="#555" stroke-width="0.9"/>
<text x="355.4" y="114.70" font-size="6.6" font-weight="bold" text-anchor="end" style="fill:#000">40</text>
<line x1="356.60" y1="131.40" x2="358.60" y2="131.40" stroke="#555" stroke-width="0.9"/>
<text x="355.4" y="133.80" font-size="6.6" font-weight="bold" text-anchor="end" style="fill:#000">20</text>
<line x1="356.60" y1="150.20" x2="358.60" y2="150.20" stroke="#555" stroke-width="0.9"/>
<text x="355.4" y="152.60" font-size="6.6" font-weight="bold" text-anchor="end" style="fill:#000">0</text>
<line x1="358.60" y1="150.20" x2="359.80" y2="150.20" stroke="#aaa" stroke-width="0.6"/>
<line x1="358.60" y1="146.41" x2="359.80" y2="146.41" stroke="#aaa" stroke-width="0.6"/>
<line x1="358.60" y1="142.62" x2="359.80" y2="142.62" stroke="#aaa" stroke-width="0.6"/>
<line x1="358.60" y1="138.84" x2="359.80" y2="138.84" stroke="#aaa" stroke-width="0.6"/>
<line x1="358.60" y1="135.05" x2="359.80" y2="135.05" stroke="#aaa" stroke-width="0.6"/>
<line x1="358.60" y1="131.26" x2="359.80" y2="131.26" stroke="#aaa" stroke-width="0.6"/>
<line x1="358.60" y1="127.47" x2="359.80" y2="127.47" stroke="#aaa" stroke-width="0.6"/>
<line x1="358.60" y1="123.68" x2="359.80" y2="123.68" stroke="#aaa" stroke-width="0.6"/>
<line x1="358.60" y1="119.90" x2="359.80" y2="119.90" stroke="#aaa" stroke-width="0.6"/>
<line x1="358.60" y1="116.11" x2="359.80" y2="116.11" stroke="#aaa" stroke-width="0.6"/>
<line x1="358.60" y1="112.32" x2="359.80" y2="112.32" stroke="#aaa" stroke-width="0.6"/>
<line x1="358.60" y1="108.53" x2="359.80" y2="108.53" stroke="#aaa" stroke-width="0.6"/>
<line x1="358.60" y1="104.74" x2="359.80" y2="104.74" stroke="#aaa" stroke-width="0.6"/>
<line x1="358.60" y1="100.96" x2="359.80" y2="100.96" stroke="#aaa" stroke-width="0.6"/>
<line x1="358.60" y1="97.17" x2="359.80" y2="97.17" stroke="#aaa" stroke-width="0.6"/>
<line x1="358.60" y1="93.38" x2="359.80" y2="93.38" stroke="#aaa" stroke-width="0.6"/>
<line x1="358.60" y1="89.59" x2="359.80" y2="89.59" stroke="#aaa" stroke-width="0.6"/>
<line x1="358.60" y1="85.80" x2="359.80" y2="85.80" stroke="#aaa" stroke-width="0.6"/>
<line x1="358.60" y1="82.02" x2="359.80" y2="82.02" stroke="#aaa" stroke-width="0.6"/>
<line x1="358.60" y1="78.23" x2="359.80" y2="78.23" stroke="#aaa" stroke-width="0.6"/>
<line x1="358.60" y1="74.44" x2="359.80" y2="74.44" stroke="#aaa" stroke-width="0.6"/>
<line x1="358.60" y1="70.65" x2="359.80" y2="70.65" stroke="#aaa" stroke-width="0.6"/>
<line x1="358.60" y1="66.86" x2="359.80" y2="66.86" stroke="#aaa" stroke-width="0.6"/>
<line x1="358.60" y1="63.08" x2="359.80" y2="63.08" stroke="#aaa" stroke-width="0.6"/>
<line x1="358.60" y1="59.29" x2="359.80" y2="59.29" stroke="#aaa" stroke-width="0.6"/>
<line x1="358.60" y1="150.20" x2="358.60" y2="152.00" stroke="#555" stroke-width="0.9"/>
<text x="357.80" y="161.30" font-size="6.1" font-weight="bold" text-anchor="middle" style="fill:#000">10<tspan dy="-2.9" font-size="4.4">0</tspan></text>
<line x1="366.13" y1="150.20" x2="366.13" y2="148.90" stroke="#aaa" stroke-width="0.6"/>
<line x1="370.53" y1="150.20" x2="370.53" y2="148.90" stroke="#aaa" stroke-width="0.6"/>
<line x1="373.65" y1="150.20" x2="373.65" y2="148.90" stroke="#aaa" stroke-width="0.6"/>
<line x1="376.07" y1="150.20" x2="376.07" y2="148.90" stroke="#aaa" stroke-width="0.6"/>
<line x1="378.05" y1="150.20" x2="378.05" y2="148.90" stroke="#aaa" stroke-width="0.6"/>
<line x1="379.73" y1="150.20" x2="379.73" y2="148.90" stroke="#aaa" stroke-width="0.6"/>
<line x1="381.18" y1="150.20" x2="381.18" y2="148.90" stroke="#aaa" stroke-width="0.6"/>
<line x1="382.46" y1="150.20" x2="382.46" y2="148.90" stroke="#aaa" stroke-width="0.6"/>
<line x1="383.60" y1="150.20" x2="383.60" y2="152.00" stroke="#555" stroke-width="0.9"/>
<text x="382.80" y="161.30" font-size="6.1" font-weight="bold" text-anchor="middle" style="fill:#000">10<tspan dy="-2.9" font-size="4.4">1</tspan></text>
<line x1="391.13" y1="150.20" x2="391.13" y2="148.90" stroke="#aaa" stroke-width="0.6"/>
<line x1="395.53" y1="150.20" x2="395.53" y2="148.90" stroke="#aaa" stroke-width="0.6"/>
<line x1="398.65" y1="150.20" x2="398.65" y2="148.90" stroke="#aaa" stroke-width="0.6"/>
<line x1="401.07" y1="150.20" x2="401.07" y2="148.90" stroke="#aaa" stroke-width="0.6"/>
<line x1="403.05" y1="150.20" x2="403.05" y2="148.90" stroke="#aaa" stroke-width="0.6"/>
<line x1="404.73" y1="150.20" x2="404.73" y2="148.90" stroke="#aaa" stroke-width="0.6"/>
<line x1="406.18" y1="150.20" x2="406.18" y2="148.90" stroke="#aaa" stroke-width="0.6"/>
<line x1="407.46" y1="150.20" x2="407.46" y2="148.90" stroke="#aaa" stroke-width="0.6"/>
<line x1="408.60" y1="150.20" x2="408.60" y2="152.00" stroke="#555" stroke-width="0.9"/>
<text x="407.80" y="161.30" font-size="6.1" font-weight="bold" text-anchor="middle" style="fill:#000">10<tspan dy="-2.9" font-size="4.4">2</tspan></text>
<line x1="416.13" y1="150.20" x2="416.13" y2="148.90" stroke="#aaa" stroke-width="0.6"/>
<line x1="420.53" y1="150.20" x2="420.53" y2="148.90" stroke="#aaa" stroke-width="0.6"/>
<line x1="423.65" y1="150.20" x2="423.65" y2="148.90" stroke="#aaa" stroke-width="0.6"/>
<line x1="426.07" y1="150.20" x2="426.07" y2="148.90" stroke="#aaa" stroke-width="0.6"/>
<line x1="428.05" y1="150.20" x2="428.05" y2="148.90" stroke="#aaa" stroke-width="0.6"/>
<line x1="429.73" y1="150.20" x2="429.73" y2="148.90" stroke="#aaa" stroke-width="0.6"/>
<line x1="431.18" y1="150.20" x2="431.18" y2="148.90" stroke="#aaa" stroke-width="0.6"/>
<line x1="432.46" y1="150.20" x2="432.46" y2="148.90" stroke="#aaa" stroke-width="0.6"/>
<line x1="433.60" y1="150.20" x2="433.60" y2="152.00" stroke="#555" stroke-width="0.9"/>
<text x="432.80" y="161.30" font-size="6.1" font-weight="bold" text-anchor="middle" style="fill:#000">10<tspan dy="-2.9" font-size="4.4">3</tspan></text>
<line x1="441.13" y1="150.20" x2="441.13" y2="148.90" stroke="#aaa" stroke-width="0.6"/>
<line x1="445.53" y1="150.20" x2="445.53" y2="148.90" stroke="#aaa" stroke-width="0.6"/>
<line x1="448.65" y1="150.20" x2="448.65" y2="148.90" stroke="#aaa" stroke-width="0.6"/>
<line x1="451.07" y1="150.20" x2="451.07" y2="148.90" stroke="#aaa" stroke-width="0.6"/>
<line x1="453.05" y1="150.20" x2="453.05" y2="148.90" stroke="#aaa" stroke-width="0.6"/>
<line x1="454.73" y1="150.20" x2="454.73" y2="148.90" stroke="#aaa" stroke-width="0.6"/>
<line x1="456.18" y1="150.20" x2="456.18" y2="148.90" stroke="#aaa" stroke-width="0.6"/>
<line x1="457.46" y1="150.20" x2="457.46" y2="148.90" stroke="#aaa" stroke-width="0.6"/>
<line x1="458.60" y1="150.20" x2="458.60" y2="152.00" stroke="#555" stroke-width="0.9"/>
<text x="457.80" y="161.30" font-size="6.1" font-weight="bold" text-anchor="middle" style="fill:#000">10<tspan dy="-2.9" font-size="4.4">4</tspan></text>
<text id="t_MSC104" x="362.70" y="63.63" font-size="11.52" textLength="49.56" lengthAdjust="spacingAndGlyphs" style="stroke-width:0.2px">MSC104</text>
<text id="t_MSC063" x="362.69" y="93.63" font-size="11.52" textLength="49.76" lengthAdjust="spacingAndGlyphs" style="stroke-width:0.2px">MSC063</text>
<line x1="387.30" y1="66.30" x2="428.80" y2="85.30" stroke="#000" stroke-width="1.3"/>
<line x1="388.60" y1="96.30" x2="415.40" y2="126.90" stroke="#000" stroke-width="1.3"/>
<line x1="106.80" y1="278.50" x2="106.80" y2="441.60" stroke="#222" stroke-width="1.4"/>
<line x1="102.60" y1="440.90" x2="286.20" y2="440.90" stroke="#222" stroke-width="1.5"/>
<line x1="102.60" y1="278.60" x2="106.80" y2="278.60" stroke="#222" stroke-width="1.3"/>
<line x1="102.60" y1="331.50" x2="106.80" y2="331.50" stroke="#222" stroke-width="1.3"/>
<line x1="102.60" y1="381.40" x2="106.80" y2="381.40" stroke="#222" stroke-width="1.3"/>
<text id="t_3x" x="37.07" y="285.61" font-size="18.52" textLength="62.30" lengthAdjust="spacingAndGlyphs">3x10^4</text>
<text id="t_2x" x="36.83" y="338.02" font-size="18.09" textLength="62.14" lengthAdjust="spacingAndGlyphs">2x10^4</text>
<text id="t_1x" x="37.35" y="389.32" font-size="17.81" textLength="61.60" lengthAdjust="spacingAndGlyphs">1x10^4</text>
<text id="t_0ci" x="89.82" y="446.73" font-size="17.10" style="stroke-width:0.2px">0</text>
<rect x="125" y="437" width="15.80" height="3.90" fill="#000"/>
<rect x="166.8" y="299.3" width="15.70" height="141.60" fill="#000"/>
<rect x="208.3" y="429.5" width="15.70" height="11.40" fill="#000"/>
<rect x="250" y="359.6" width="15.50" height="81.30" fill="#000"/>
<text id="t_MSC103" x="201.88" y="297.03" font-size="16.68" textLength="71.51" lengthAdjust="spacingAndGlyphs" style="stroke-width:0.2px">MSC103</text>
<text id="t_thym" transform="translate(27.79,463.49) rotate(-90)" font-size="18.82" textLength="201.27" lengthAdjust="spacingAndGlyphs">thymidine uptake [cpm]</text>
<text id="t_RLC" x="120.73" y="462.88" font-size="12.44" textLength="28.34" lengthAdjust="spacingAndGlyphs" style="stroke-width:0.2px">RLC</text>
<text id="t_MLR2" x="156.41" y="463.00" font-size="12.80" textLength="30.35" lengthAdjust="spacingAndGlyphs" style="stroke-width:0.2px">MLR</text>
<text id="t_MLR3" x="197.31" y="463.00" font-size="12.80" textLength="30.35" lengthAdjust="spacingAndGlyphs" style="stroke-width:0.2px">MLR</text>
<text id="t_MSC3" x="196.93" y="475.98" font-size="12.16" textLength="31.53" lengthAdjust="spacingAndGlyphs" style="stroke-width:0.2px">MSC</text>
<text id="t_MLR4" x="243.11" y="463.00" font-size="12.80" textLength="30.46" lengthAdjust="spacingAndGlyphs" style="stroke-width:0.2px">MLR</text>
<text id="t_MSC4" x="242.19" y="475.98" font-size="12.16" textLength="32.59" lengthAdjust="spacingAndGlyphs" style="stroke-width:0.2px">MSC</text>
<text id="t_SnPP4" x="241.98" y="488.98" font-size="12.16" textLength="35.03" lengthAdjust="spacingAndGlyphs" style="stroke-width:0.2px">SnPP</text>
<line x1="360.80" y1="279.10" x2="360.80" y2="440.20" stroke="#222" stroke-width="1.4"/>
<line x1="357.00" y1="439.50" x2="469.20" y2="439.50" stroke="#111" stroke-width="1.7"/>
<line x1="357.00" y1="279.10" x2="360.80" y2="279.10" stroke="#222" stroke-width="1.3"/>
<line x1="357.00" y1="319.30" x2="360.80" y2="319.30" stroke="#222" stroke-width="1.3"/>
<line x1="357.00" y1="359.80" x2="360.80" y2="359.80" stroke="#222" stroke-width="1.3"/>
<line x1="357.00" y1="400.30" x2="360.80" y2="400.30" stroke="#222" stroke-width="1.3"/>
<text id="t_c100" x="321.63" y="287.70" font-size="20.35" textLength="32.62" lengthAdjust="spacingAndGlyphs">100</text>
<text id="t_c75" x="331.95" y="328.10" font-size="20.07" textLength="22.30" lengthAdjust="spacingAndGlyphs">75</text>
<text id="t_c50" x="332.21" y="368.50" font-size="19.79" textLength="21.98" lengthAdjust="spacingAndGlyphs">50</text>
<text id="t_c25" x="331.37" y="408.61" font-size="19.36" textLength="22.90" lengthAdjust="spacingAndGlyphs">25</text>
<text id="t_c0" x="343.33" y="447.11" font-size="19.22">0</text>
<text id="t_supp" transform="translate(314.65,428.49) rotate(-90)" font-size="19.52" textLength="129.71" lengthAdjust="spacingAndGlyphs">% suppression</text>
<line x1="390.20" y1="282.50" x2="426.60" y2="307.90" stroke="#8f8f8f" stroke-width="0.9"/>
<line x1="390.20" y1="289.80" x2="426.60" y2="312.50" stroke="#8f8f8f" stroke-width="0.9"/>
<line x1="390.20" y1="292.20" x2="426.60" y2="316.50" stroke="#8f8f8f" stroke-width="0.9"/>
<line x1="390.20" y1="299.50" x2="426.60" y2="324.40" stroke="#8f8f8f" stroke-width="0.9"/>
<line x1="390.20" y1="300.30" x2="426.60" y2="365.00" stroke="#8f8f8f" stroke-width="0.9"/>
<line x1="390.20" y1="318.50" x2="426.60" y2="357.50" stroke="#8f8f8f" stroke-width="0.9"/>
<line x1="390.20" y1="320.00" x2="426.60" y2="370.10" stroke="#8f8f8f" stroke-width="0.9"/>
<line x1="390.20" y1="336.00" x2="426.60" y2="363.90" stroke="#8f8f8f" stroke-width="0.9"/>
<line x1="390.20" y1="337.50" x2="426.60" y2="375.60" stroke="#8f8f8f" stroke-width="0.9"/>
<line x1="390.20" y1="355.50" x2="426.60" y2="402.80" stroke="#8f8f8f" stroke-width="0.9"/>
<line x1="390.20" y1="371.80" x2="426.60" y2="438.50" stroke="#8f8f8f" stroke-width="0.9"/>
<line x1="390.20" y1="395.60" x2="426.60" y2="426.80" stroke="#8f8f8f" stroke-width="0.9"/>
<circle cx="429.60" cy="308.90" r="4.5" fill="#000" stroke="none" stroke-width="1"/>
<circle cx="429.60" cy="313.50" r="4.5" fill="#000" stroke="none" stroke-width="1"/>
<circle cx="429.60" cy="317.50" r="4.5" fill="#000" stroke="none" stroke-width="1"/>
<circle cx="429.60" cy="325.40" r="4.5" fill="#000" stroke="none" stroke-width="1"/>
<circle cx="429.60" cy="366.00" r="4.5" fill="#000" stroke="none" stroke-width="1"/>
<circle cx="429.60" cy="358.50" r="4.5" fill="#000" stroke="none" stroke-width="1"/>
<circle cx="429.60" cy="371.10" r="4.5" fill="#000" stroke="none" stroke-width="1"/>
<circle cx="429.60" cy="364.90" r="4.5" fill="#000" stroke="none" stroke-width="1"/>
<circle cx="429.60" cy="376.60" r="4.5" fill="#000" stroke="none" stroke-width="1"/>
<circle cx="429.60" cy="403.80" r="4.5" fill="#000" stroke="none" stroke-width="1"/>
<circle cx="429.60" cy="439.50" r="4.5" fill="#000" stroke="none" stroke-width="1"/>
<circle cx="429.60" cy="427.80" r="4.5" fill="#000" stroke="none" stroke-width="1"/>
<circle cx="387.20" cy="281.00" r="3.85" fill="#fff" stroke="#000" stroke-width="1.35"/>
<circle cx="387.20" cy="288.30" r="3.85" fill="#fff" stroke="#000" stroke-width="1.35"/>
<circle cx="387.20" cy="290.70" r="3.85" fill="#fff" stroke="#000" stroke-width="1.35"/>
<circle cx="387.20" cy="298.00" r="3.85" fill="#fff" stroke="#000" stroke-width="1.35"/>
<circle cx="387.20" cy="298.80" r="3.85" fill="#fff" stroke="#000" stroke-width="1.35"/>
<circle cx="387.20" cy="317.00" r="3.85" fill="#fff" stroke="#000" stroke-width="1.35"/>
<circle cx="387.20" cy="318.50" r="3.85" fill="#fff" stroke="#000" stroke-width="1.35"/>
<circle cx="387.20" cy="334.50" r="3.85" fill="#fff" stroke="#000" stroke-width="1.35"/>
<circle cx="387.20" cy="336.00" r="3.85" fill="#fff" stroke="#000" stroke-width="1.35"/>
<circle cx="387.20" cy="354.00" r="3.85" fill="#fff" stroke="#000" stroke-width="1.35"/>
<circle cx="387.20" cy="370.30" r="3.85" fill="#fff" stroke="#000" stroke-width="1.35"/>
<circle cx="387.20" cy="394.10" r="3.85" fill="#fff" stroke="#000" stroke-width="1.35"/>
<text id="t_plt" x="447.59" y="292.45" font-size="12.27" textLength="50.77" lengthAdjust="spacingAndGlyphs" style="stroke-width:0.2px">p&lt;0.001</text>
<circle cx="451.00" cy="319.10" r="3.85" fill="#fff" stroke="#000" stroke-width="1.35"/>
<text id="t_untr" x="457.57" y="322.06" font-size="14.15" textLength="60.23" lengthAdjust="spacingAndGlyphs" style="stroke-width:0.2px">untreated</text>
<circle cx="451.10" cy="338.20" r="4.5" fill="#000" stroke="none" stroke-width="1"/>
<text id="t_SnPPl" x="458.16" y="342.57" font-size="13.00" textLength="36.38" lengthAdjust="spacingAndGlyphs" style="stroke-width:0.2px">SnPP</text>
<line x1="84.50" y1="552.50" x2="84.50" y2="672.20" stroke="#555" stroke-width="1.3"/>
<line x1="83.90" y1="671.60" x2="202.90" y2="671.60" stroke="#555" stroke-width="1.3"/>
<line x1="81.50" y1="552.50" x2="84.50" y2="552.50" stroke="#555" stroke-width="1.2"/>
<line x1="81.50" y1="582.30" x2="84.50" y2="582.30" stroke="#555" stroke-width="1.2"/>
<line x1="81.50" y1="612.30" x2="84.50" y2="612.30" stroke="#555" stroke-width="1.2"/>
<line x1="81.50" y1="642.00" x2="84.50" y2="642.00" stroke="#555" stroke-width="1.2"/>
<line x1="108.60" y1="671.60" x2="108.60" y2="674.80" stroke="#555" stroke-width="1.2"/>
<line x1="156.40" y1="671.60" x2="156.40" y2="674.80" stroke="#555" stroke-width="1.2"/>
<line x1="202.20" y1="671.60" x2="202.20" y2="674.80" stroke="#555" stroke-width="1.2"/>
<text id="t_D100" x="46.54" y="560.51" font-size="19.08" textLength="32.51" lengthAdjust="spacingAndGlyphs">100</text>
<text id="t_D80" x="58.47" y="588.81" font-size="18.94" textLength="21.81" lengthAdjust="spacingAndGlyphs">80</text>
<text id="t_D70" x="57.72" y="620.11" font-size="19.08" textLength="22.79" lengthAdjust="spacingAndGlyphs">70</text>
<text id="t_D60" x="58.29" y="649.31" font-size="18.66" textLength="22.41" lengthAdjust="spacingAndGlyphs">60</text>
<text id="t_D50" x="59.01" y="679.61" font-size="19.22" textLength="21.98" lengthAdjust="spacingAndGlyphs">50</text>
<text id="t_10000" x="64.34" y="695.61" font-size="18.66" textLength="54.31" lengthAdjust="spacingAndGlyphs">10000</text>
<text id="t_14000" x="170.84" y="695.01" font-size="18.66" textLength="54.00" lengthAdjust="spacingAndGlyphs">14000</text>
<text id="t_HO1FITC" x="77.78" y="719.71" font-size="19.46" textLength="139.21" lengthAdjust="spacingAndGlyphs">HO1 FITC [MFI]</text>
<text id="t_suppr" transform="translate(36.12,689.04) rotate(-90)" font-size="19.20" textLength="146.51" lengthAdjust="spacingAndGlyphs">suppressivity [%]</text>
<circle cx="91.30" cy="605.80" r="4.5" fill="#000" stroke="none" stroke-width="1"/>
<circle cx="93.30" cy="645.00" r="4.5" fill="#000" stroke="none" stroke-width="1"/>
<circle cx="112.50" cy="587.50" r="4.5" fill="#000" stroke="none" stroke-width="1"/>
<circle cx="121.30" cy="567.50" r="4.5" fill="#000" stroke="none" stroke-width="1"/>
<circle cx="121.30" cy="583.80" r="4.5" fill="#000" stroke="none" stroke-width="1"/>
<circle cx="165.00" cy="594.30" r="4.5" fill="#000" stroke="none" stroke-width="1"/>
<circle cx="191.80" cy="632.50" r="4.5" fill="#000" stroke="none" stroke-width="1"/>
<line x1="91.30" y1="599.30" x2="192.00" y2="607.50" stroke="#222" stroke-width="1.3" stroke-dasharray="3.2,2.2"/>
<line x1="302.30" y1="550.30" x2="302.30" y2="671.00" stroke="#555" stroke-width="1.3"/>
<line x1="301.70" y1="670.30" x2="423.00" y2="670.30" stroke="#555" stroke-width="1.3"/>
<line x1="299.30" y1="550.30" x2="302.30" y2="550.30" stroke="#555" stroke-width="1.2"/>
<line x1="299.30" y1="590.50" x2="302.30" y2="590.50" stroke="#555" stroke-width="1.2"/>
<line x1="299.30" y1="630.40" x2="302.30" y2="630.40" stroke="#555" stroke-width="1.2"/>
<line x1="302.80" y1="670.30" x2="302.80" y2="673.40" stroke="#555" stroke-width="1.2"/>
<line x1="329.50" y1="670.30" x2="329.50" y2="673.40" stroke="#555" stroke-width="1.2"/>
<line x1="356.00" y1="670.30" x2="356.00" y2="673.40" stroke="#555" stroke-width="1.2"/>
<line x1="383.00" y1="670.30" x2="383.00" y2="673.40" stroke="#555" stroke-width="1.2"/>
<line x1="409.80" y1="670.30" x2="409.80" y2="673.40" stroke="#555" stroke-width="1.2"/>
<text id="t_E12" x="274.04" y="560.30" font-size="19.21" textLength="21.68" lengthAdjust="spacingAndGlyphs">12</text>
<text id="t_E8" x="284.90" y="596.82" font-size="18.37" textLength="11.83" lengthAdjust="spacingAndGlyphs">8</text>
<text id="t_E4" x="284.45" y="637.80" font-size="20.22">4</text>
<text id="t_E0y" x="285.94" y="674.21" font-size="18.94">0</text>
<text id="t_E0x" x="297.72" y="691.70" font-size="19.51">0</text>
<text id="t_E80" x="344.85" y="693.21" font-size="18.94" textLength="22.25" lengthAdjust="spacingAndGlyphs">80</text>
<text id="t_E160" x="395.08" y="693.21" font-size="18.94" textLength="29.29" lengthAdjust="spacingAndGlyphs">160</text>
<text id="t_Nrf2" x="310.08" y="717.84" font-size="20.05" textLength="111.19" lengthAdjust="spacingAndGlyphs">Nrf2 [mRNA]</text>
<text id="t_HO1mRNA" transform="translate(265.90,668.92) rotate(-90)" font-size="17.37" textLength="114.48" lengthAdjust="spacingAndGlyphs">HO1 [mRNA]</text>
<circle cx="308.50" cy="662.90" r="4.5" fill="#000" stroke="none" stroke-width="1"/>
<circle cx="317.20" cy="659.40" r="4.5" fill="#000" stroke="none" stroke-width="1"/>
<circle cx="330.50" cy="632.00" r="4.5" fill="#000" stroke="none" stroke-width="1"/>
<circle cx="336.30" cy="620.00" r="4.5" fill="#000" stroke="none" stroke-width="1"/>
<circle cx="334.20" cy="657.30" r="4.5" fill="#000" stroke="none" stroke-width="1"/>
<circle cx="341.80" cy="650.80" r="4.5" fill="#000" stroke="none" stroke-width="1"/>
<circle cx="354.50" cy="588.20" r="4.5" fill="#000" stroke="none" stroke-width="1"/>
<circle cx="405.40" cy="565.40" r="4.5" fill="#000" stroke="none" stroke-width="1"/>
<line x1="317.50" y1="652.50" x2="400.60" y2="566.30" stroke="#222" stroke-width="1.1" stroke-dasharray="3,2"/>
<text id="t_r" x="387.73" y="622.90" font-size="18.79">r</text>
<text id="t_sup2" x="394.94" y="612.40" font-size="8.89" textLength="5.13" lengthAdjust="spacingAndGlyphs" style="stroke-width:0.2px">2</text>
<text id="t_eq" x="400.52" y="623.30" font-size="19.51" textLength="60.75" lengthAdjust="spacingAndGlyphs">=0.786</text>
<text id="t_peq" x="387.42" y="651.43" font-size="20.11" textLength="71.62" lengthAdjust="spacingAndGlyphs">p=0.003</text>
</svg></body></html>
